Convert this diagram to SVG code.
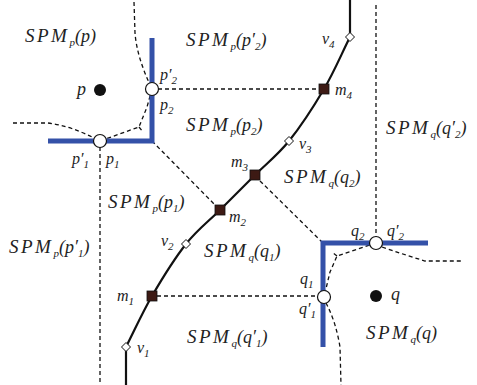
<svg xmlns="http://www.w3.org/2000/svg" width="477" height="385" viewBox="0 0 477 385">
<style>
.bg{fill:#fff}
.dash{fill:none;stroke:#111;stroke-width:1.3;stroke-dasharray:4,3}
.curve{fill:none;stroke:#111;stroke-width:2.2}
.wall{fill:none;stroke:#3451a8;stroke-width:5}
.hole{fill:#fff;stroke:#111;stroke-width:1.2}
.site{fill:#111}
.mid{fill:#3d1a14;stroke:#111;stroke-width:0.8}
.vx{fill:#fff;stroke:#111;stroke-width:1}
text{font-family:"Liberation Serif","DejaVu Serif",serif;font-style:italic;fill:#222}
.big{font-size:18px}
.sm{font-size:16px}
.cal{font-size:19px;letter-spacing:2.5px}
.sb{font-size:11px}
</style>
<rect class="bg" x="0" y="0" width="477" height="385"/>
<g id="connectors">
<path class="dash" d="M134,2 L135,33 Q137,58 152,89"/>
<path class="dash" d="M152,89 L147,107 L139,127 L100,141"/>
<path class="dash" d="M139,127 L143,132"/>
<path class="dash" d="M13,123 L48,123 Q72,126 100,141"/>
<path class="dash" d="M100,147 L100,385"/>
<path class="dash" d="M152,141 L220,210"/>
<path class="dash" d="M158,89 L318,89"/>
<path class="dash" d="M376,5 L376,237"/>
<path class="dash" d="M255,176 L323,243"/>
<path class="dash" d="M376,243 L337,256 L330,272 L324,297"/>
<path class="dash" d="M337,256 L333,253"/>
<path class="dash" d="M382,247 Q405,255 425,261 L462,261"/>
<path class="dash" d="M326,303 Q336,322 340,347 L341,385"/>
<path class="dash" d="M157,296 L318,296"/>
<path class="curve" d="M126,385 L126,347 C134.7,330 142,313.2 152,296 C162,278.8 174.7,258.3 186,244 C197.3,229.7 208.5,221.5 220,210 C231.5,198.5 243.5,186.5 255,175 C266.5,163.5 277.5,155.3 289,141 C300.5,126.7 313.8,106.3 324,89 C334.2,71.7 341.3,54.3 350,37 L350,0"/>
</g>
<g id="wall-p"><path class="wall" d="M152,38 L152,141 L48,141"/></g>
<g id="wall-q"><path class="wall" d="M428,243 L323,243 L323,347"/></g>
<g id="site-p"><circle class="site" cx="100" cy="90" r="6"/><text class="big" x="77" y="95">p</text></g>
<g id="site-q"><circle class="site" cx="376" cy="296" r="6"/><text class="big" x="391" y="300">q</text></g>
<g id="node-p2"><circle class="hole" cx="152" cy="89" r="6.5"/>
<text class="sm" x="160" y="80">p′<tspan class="sb" dy="4">2</tspan></text>
<text class="sm" x="160" y="110">p<tspan class="sb" dy="4">2</tspan></text></g>
<g id="node-p1"><circle class="hole" cx="100" cy="141" r="6.5"/>
<text class="sm" x="72" y="164">p′<tspan class="sb" dy="4">1</tspan></text>
<text class="sm" x="106" y="164">p<tspan class="sb" dy="4">1</tspan></text></g>
<g id="node-q2"><circle class="hole" cx="376" cy="243" r="6.5"/>
<text class="sm" x="351" y="236">q<tspan class="sb" dy="4">2</tspan></text>
<text class="sm" x="387" y="236">q′<tspan class="sb" dy="4">2</tspan></text></g>
<g id="node-q1"><circle class="hole" cx="324" cy="297" r="6.5"/>
<text class="sm" x="300" y="284">q<tspan class="sb" dy="4">1</tspan></text>
<text class="sm" x="299" y="314">q′<tspan class="sb" dy="4">1</tspan></text></g>
<g id="node-m1"><rect class="mid" x="147" y="291" width="10" height="10"/><text class="sm" x="117" y="301">m<tspan class="sb" dy="4">1</tspan></text></g>
<g id="node-m2"><rect class="mid" x="215" y="205" width="10" height="10"/><text class="sm" x="229" y="222">m<tspan class="sb" dy="4">2</tspan></text></g>
<g id="node-m3"><rect class="mid" x="250" y="170" width="10" height="10"/><text class="sm" x="231" y="167">m<tspan class="sb" dy="4">3</tspan></text></g>
<g id="node-m4"><rect class="mid" x="319" y="84" width="10" height="10"/><text class="sm" x="335" y="95">m<tspan class="sb" dy="4">4</tspan></text></g>
<g id="node-v1"><path class="vx" d="M126,342.5 L130.5,347 L126,351.5 L121.5,347 Z"/><text class="sm" x="137" y="353">v<tspan class="sb" dy="4">1</tspan></text></g>
<g id="node-v2"><path class="vx" d="M186,239.5 L190.5,244 L186,248.5 L181.5,244 Z"/><text class="sm" x="161" y="246">v<tspan class="sb" dy="4">2</tspan></text></g>
<g id="node-v3"><path class="vx" d="M289,136.5 L293.5,141 L289,145.5 L284.5,141 Z"/><text class="sm" x="299" y="149">v<tspan class="sb" dy="4">3</tspan></text></g>
<g id="node-v4"><path class="vx" d="M350,32.5 L354.5,37 L350,41.5 L345.5,37 Z"/><text class="sm" x="322" y="44">v<tspan class="sb" dy="4">4</tspan></text></g>
<g id="regions">
<text class="big" x="25" y="42"><tspan class="cal">SPM</tspan><tspan class="sb" dy="4">p</tspan><tspan dy="-4">(p)</tspan></text>
<text class="big" x="186" y="46"><tspan class="cal">SPM</tspan><tspan class="sb" dy="4">p</tspan><tspan dy="-4">(p′</tspan><tspan class="sb" dy="4">2</tspan><tspan dy="-4">)</tspan></text>
<text class="big" x="186" y="131"><tspan class="cal">SPM</tspan><tspan class="sb" dy="4">p</tspan><tspan dy="-4">(p</tspan><tspan class="sb" dy="4">2</tspan><tspan dy="-4">)</tspan></text>
<text class="big" x="386" y="134"><tspan class="cal">SPM</tspan><tspan class="sb" dy="4">q</tspan><tspan dy="-4">(q′</tspan><tspan class="sb" dy="4">2</tspan><tspan dy="-4">)</tspan></text>
<text class="big" x="284" y="183"><tspan class="cal">SPM</tspan><tspan class="sb" dy="4">q</tspan><tspan dy="-4">(q</tspan><tspan class="sb" dy="4">2</tspan><tspan dy="-4">)</tspan></text>
<text class="big" x="108" y="208"><tspan class="cal">SPM</tspan><tspan class="sb" dy="4">p</tspan><tspan dy="-4">(p</tspan><tspan class="sb" dy="4">1</tspan><tspan dy="-4">)</tspan></text>
<text class="big" x="9" y="253"><tspan class="cal">SPM</tspan><tspan class="sb" dy="4">p</tspan><tspan dy="-4">(p′</tspan><tspan class="sb" dy="4">1</tspan><tspan dy="-4">)</tspan></text>
<text class="big" x="204" y="257"><tspan class="cal">SPM</tspan><tspan class="sb" dy="4">q</tspan><tspan dy="-4">(q</tspan><tspan class="sb" dy="4">1</tspan><tspan dy="-4">)</tspan></text>
<text class="big" x="187" y="343"><tspan class="cal">SPM</tspan><tspan class="sb" dy="4">q</tspan><tspan dy="-4">(q′</tspan><tspan class="sb" dy="4">1</tspan><tspan dy="-4">)</tspan></text>
<text class="big" x="366" y="339"><tspan class="cal">SPM</tspan><tspan class="sb" dy="4">q</tspan><tspan dy="-4">(q)</tspan></text>
</g>
</svg>
